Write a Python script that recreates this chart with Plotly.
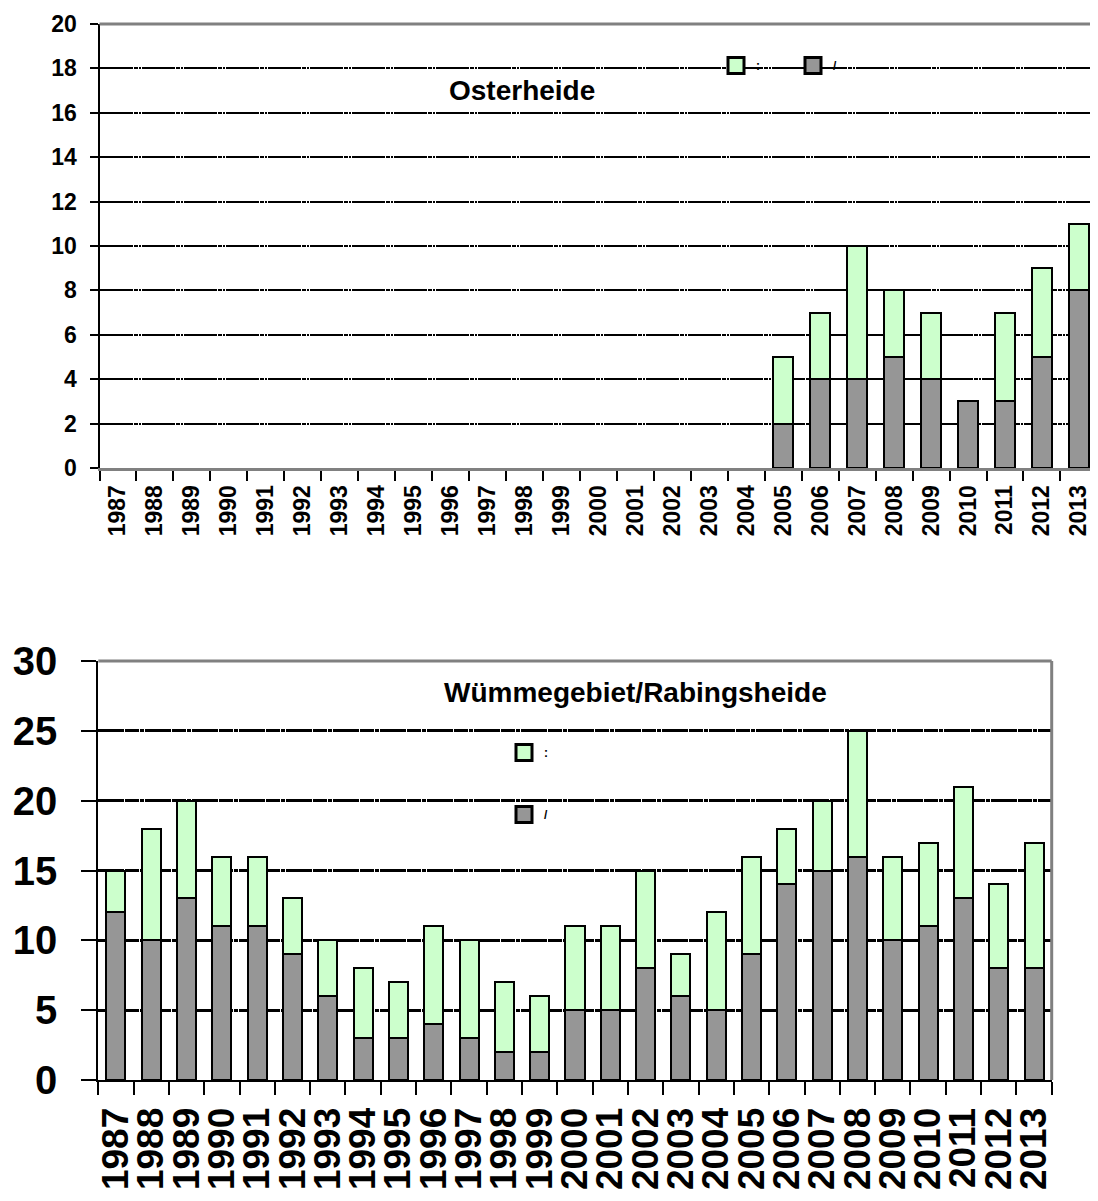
import plotly.graph_objects as go

years = [str(y) for y in range(1987, 2014)]

# Osterheide (top chart): grey = lower segment, green = upper segment
oster_grey = [None] * 18 + [2, 4, 4, 5, 4, 3, 3, 5, 8]
oster_green = [None] * 18 + [3, 3, 6, 3, 3, 0, 4, 4, 3]

# Wümmegebiet/Rabingsheide (bottom chart)
wuem_grey = [12, 10, 13, 11, 11, 9, 6, 3, 3, 4, 3, 2, 2, 5, 5, 8, 6, 5, 9, 14, 15, 16, 10, 11, 13, 8, 8]
wuem_green = [3, 8, 7, 5, 5, 4, 4, 5, 4, 7, 7, 5, 4, 6, 6, 7, 3, 7, 7, 4, 5, 9, 6, 6, 8, 6, 9]

legend_green = ":"
legend_grey = "/"
title_top = "Osterheide"
title_bottom = "Wümmegebiet/Rabingsheide"

GREEN = "#CCFFCC"
GREY = "#969696"
FONT = "Liberation Sans"

fig = go.Figure()

# top chart bars
fig.add_trace(go.Bar(x=years, y=oster_grey, marker=dict(color=GREY, line=dict(color="black", width=2)),
                     showlegend=False, xaxis="x", yaxis="y"))
fig.add_trace(go.Bar(x=years, y=oster_green, marker=dict(color=GREEN, line=dict(color="black", width=2)),
                     showlegend=False, xaxis="x", yaxis="y"))
# bottom chart bars
fig.add_trace(go.Bar(x=years, y=wuem_grey, marker=dict(color=GREY, line=dict(color="black", width=2)),
                     showlegend=False, xaxis="x2", yaxis="y2"))
fig.add_trace(go.Bar(x=years, y=wuem_green, marker=dict(color=GREEN, line=dict(color="black", width=2)),
                     showlegend=False, xaxis="x2", yaxis="y2"))

# legend entries
def leg(name, color, legend, ax, ay, group):
    return go.Scatter(x=[None], y=[None], mode="markers", name=name, legend=legend, legendgroup=group,
                      marker=dict(symbol="square", size=16, color=color, line=dict(color="black", width=3)),
                      xaxis=ax, yaxis=ay)

fig.add_trace(leg(legend_green, GREEN, "legend", "x", "y", "a"))
fig.add_trace(leg(legend_grey, GREY, "legend", "x", "y", "b"))
fig.add_trace(leg(legend_green, GREEN, "legend2", "x2", "y2", "c"))
fig.add_trace(leg(legend_grey, GREY, "legend2", "x2", "y2", "d"))

# page body has an 8px margin; figure is sized so no scrollbars appear
OFF = 8
W, H = 1098 - 2 * OFF, 1201 - 2 * OFF

def px(X):
    return (X - OFF) / W

def py(Y):
    return 1 - (Y - OFF) / H

fig.update_layout(
    width=W, height=H, margin=dict(l=0, r=0, t=0, b=0, autoexpand=False),
    paper_bgcolor="white", plot_bgcolor="white",
    barmode="stack", bargap=0.46,
    font=dict(family=FONT, color="black"),
    xaxis=dict(domain=[px(99.5), 1.0], type="category", range=[-0.5, 26.3], anchor="y",
               tickmode="array", tickvals=years, ticktext=years,
               showline=True, linecolor="#808080", linewidth=3,
               ticks="outside", tickson="boundaries", ticklen=10, tickwidth=2, tickcolor="black",
               tickangle=-90, tickfont=dict(family=FONT, size=23, weight="bold"),
               ticklabelstandoff=5, showgrid=False, zeroline=False, automargin=False, fixedrange=True),
    yaxis=dict(domain=[py(468), py(24)], range=[0, 20], dtick=2, anchor="x",
               showline=True, linecolor="black", linewidth=2,
               ticks="outside", ticklen=8, tickwidth=2, tickcolor="black",
               tickfont=dict(family=FONT, size=23, weight="bold"), ticklabelstandoff=8,
               showgrid=True, gridcolor="black", gridwidth=2, griddash="33px,1px,4px,1px,2px,1px",
               zeroline=False, automargin=False, fixedrange=True),
    xaxis2=dict(domain=[px(98.3), px(1051.7)], type="category", range=[-0.5, 26.5], anchor="y2",
                tickmode="array", tickvals=years, ticktext=years,
                showline=True, linecolor="black", linewidth=2,
                ticks="outside", tickson="boundaries", ticklen=13, tickwidth=2, tickcolor="black",
                tickangle=-90, tickfont=dict(family=FONT, size=37, weight="bold"),
                ticklabelstandoff=11, showgrid=False, zeroline=False, automargin=False, fixedrange=True),
    yaxis2=dict(domain=[py(1080), py(661)], range=[0, 30], dtick=5, anchor="x2",
                showline=True, linecolor="black", linewidth=2,
                ticks="outside", ticklen=15, tickwidth=2, tickcolor="black",
                tickfont=dict(family=FONT, size=40, weight="bold"), ticklabelstandoff=16,
                showgrid=True, gridcolor="black", gridwidth=3, griddash="26px,1px,14px,1px,4px,1px",
                zeroline=False, automargin=False, fixedrange=True),
    legend=dict(orientation="h", x=px(716), y=py(51), xanchor="left", yanchor="top",
                bgcolor="rgba(0,0,0,0)", font=dict(family=FONT, size=12, weight="bold"),
                entrywidth=32, entrywidthmode="pixels", itemclick=False, itemdoubleclick=False),
    legend2=dict(orientation="v", x=px(504), y=py(738), xanchor="left", yanchor="top",
                 bgcolor="rgba(0,0,0,0)", font=dict(family=FONT, size=12, weight="bold"),
                 tracegroupgap=43, itemclick=False, itemdoubleclick=False),
    annotations=[
        dict(text=title_top, xref="paper", yref="paper", x=px(522), y=py(90), showarrow=False,
             xanchor="center", yanchor="middle", font=dict(family=FONT, size=28, weight="bold")),
        dict(text=title_bottom, xref="paper", yref="paper", x=px(635), y=py(692), showarrow=False,
             xanchor="center", yanchor="middle", font=dict(family=FONT, size=28, weight="bold")),
    ],
    shapes=[
        # top chart: grey top border
        dict(type="line", xref="x domain", yref="y domain", x0=0, x1=1, y0=1, y1=1,
             line=dict(color="#808080", width=3), layer="above"),
        # bottom chart: grey top and right border
        dict(type="line", xref="x2 domain", yref="y2 domain", x0=0, x1=1, y0=1, y1=1,
             line=dict(color="#808080", width=3), layer="above"),
        dict(type="line", xref="x2 domain", yref="y2 domain", x0=1, x1=1, y0=0, y1=1,
             line=dict(color="#808080", width=3), layer="above"),
    ],
)

fig.write_html("out.html")
